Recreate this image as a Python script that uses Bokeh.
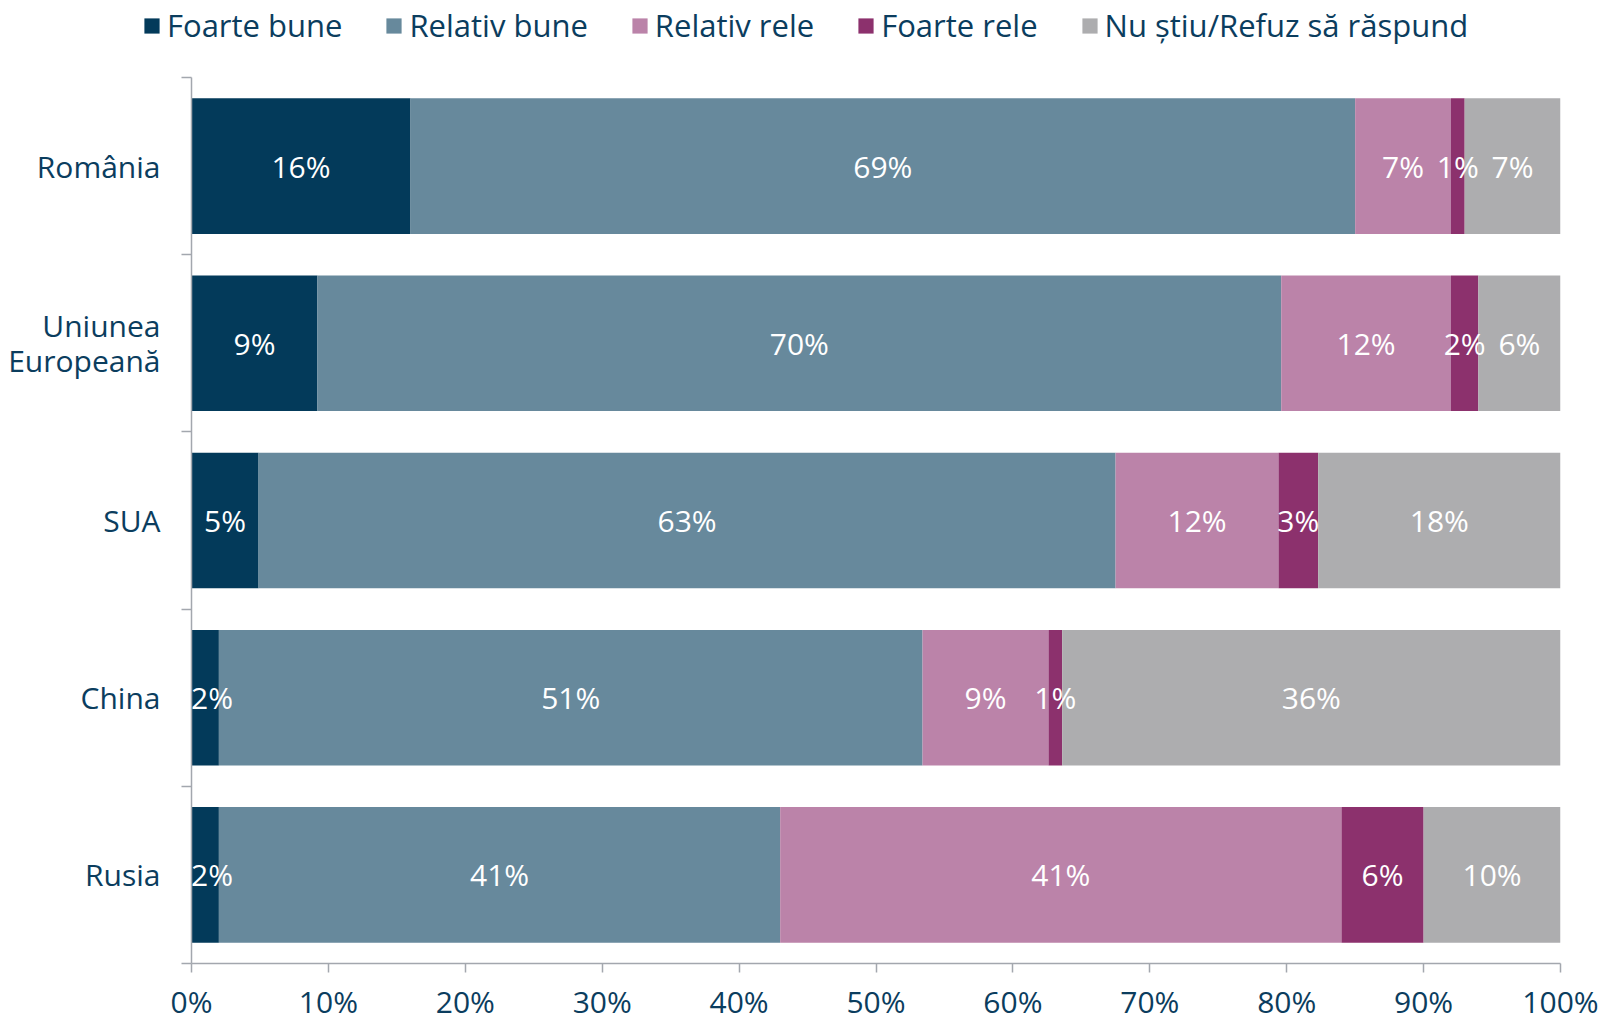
import numpy as np
from bokeh.plotting import figure
from bokeh.layouts import column
from bokeh.models import Range1d, FixedTicker, Legend, LegendItem
from bokeh.core.properties import value
from bokeh.embed import file_html
from bokeh.resources import INLINE

# ---- data ----
categories = ["România", "Uniunea\nEuropeană", "SUA", "China", "Rusia"]
series_names = ["Foarte bune", "Relativ bune", "Relativ rele", "Foarte rele",
                "Nu știu/Refuz să răspund"]
foarte_bune = [16.0, 9.2, 4.9, 2.0, 2.0]
relativ_bune = [69.0, 70.4, 62.6, 51.4, 41.0]
relativ_rele = [7.0, 12.4, 11.9, 9.2, 41.0]
foarte_rele = [1.0, 2.0, 2.9, 1.0, 6.0]
nu_stiu = [7.0, 6.0, 17.7, 36.4, 10.0]
x_ticks = [0, 10, 20, 30, 40, 50, 60, 70, 80, 90, 100]
x_tick_labels = ["0%", "10%", "20%", "30%", "40%", "50%", "60%", "70%", "80%", "90%", "100%"]

# ---- style ----
colors = ["#033A5A", "#67899C", "#BB83A9", "#8C316D", "#ADADAF"]
TEXT = "#0B3D5E"
AXIS = "#A3A7AE"
FONT = "Open Sans"
FS = "30px"

series = [foarte_bune, relativ_bune, relativ_rele, foarte_rele, nu_stiu]
n = len(categories)
ys = np.arange(n)[::-1].astype(float)

# ---- legend strip (own small figure above the chart) ----
LEG_H = 52
pl = figure(width=1600, height=LEG_H, x_range=Range1d(0, 1), y_range=Range1d(0, 1),
            output_backend="svg", toolbar_location=None,
            x_axis_location=None, y_axis_location=None,
            min_border_left=0, min_border_right=0, min_border_top=0,
            min_border_bottom=0)
pl.frame_align = False
pl.outline_line_color = None
pl.xgrid.visible = False
pl.ygrid.visible = False

# ---- main chart ----
p = figure(frame_width=1369, frame_height=886,
           x_range=Range1d(0, 100), y_range=Range1d(-0.5, n - 0.5),
           output_backend="svg", toolbar_location=None,
           min_border_left=191, min_border_right=40, min_border_top=77 - LEG_H,
           min_border_bottom=40)
p.frame_align = False
p.outline_line_color = None
p.xgrid.visible = False
p.ygrid.visible = False

left = np.zeros(n)
items = []
label_x, label_y, label_t = [], [], []
for name, vals, col in zip(series_names, series, colors):
    vals = np.array(vals)
    right = left + vals
    p.hbar(y=ys, left=left, right=right, height=0.765, fill_color=col,
           line_color=None)
    # legend proxy in the legend strip (same data, not shown)
    lr = pl.hbar(y=ys, left=left, right=right, height=0.765, fill_color=col,
                 line_color=None, visible=False)
    items.append(LegendItem(label=name, renderers=[lr]))
    label_x += list(np.maximum((left + right) / 2, 1.5))
    label_y += list(ys)
    label_t += [f"{v:.0f}%" for v in vals]
    left = right

p.text(x=label_x, y=label_y, text=label_t, text_align="center",
       text_baseline="middle", text_color="white",
       text_font=value(FONT), text_font_size=FS)

# x axis
xa = p.xaxis[0]
xa.ticker = FixedTicker(ticks=x_ticks)
xa.major_label_overrides = {t: l for t, l in zip(x_ticks, x_tick_labels)}
xa.axis_line_color = AXIS
xa.axis_line_width = 1.5
xa.major_tick_line_color = AXIS
xa.major_tick_line_width = 1.5
xa.major_tick_out = 9
xa.major_tick_in = 0
xa.minor_tick_line_color = None
xa.major_label_text_font = FONT
xa.major_label_text_font_size = FS
xa.major_label_text_color = TEXT
xa.major_label_standoff = 8

# y axis
ya = p.yaxis[0]
ya.ticker = FixedTicker(ticks=list(ys), minor_ticks=list(np.arange(-0.5, n, 1.0)))
ya.major_label_overrides = {float(y): c for y, c in zip(ys, categories)}
ya.axis_line_color = AXIS
ya.axis_line_width = 1.5
ya.major_tick_out = 0
ya.major_tick_in = 0
ya.major_tick_line_color = None
ya.minor_tick_line_color = AXIS
ya.minor_tick_line_width = 1.5
ya.minor_tick_out = 10
ya.minor_tick_in = 0
ya.major_label_text_font = FONT
ya.major_label_text_font_size = FS
ya.major_label_text_color = TEXT
ya.major_label_text_line_height = 0.85
ya.major_label_standoff = 21

legend = Legend(items=items, orientation="horizontal", location=(142, 6))
legend.label_text_font = FONT
legend.label_text_font_size = "31px"
legend.label_text_color = TEXT
legend.glyph_width = 19
legend.glyph_height = 19
legend.label_standoff = 6
legend.spacing = 42
legend.padding = 0
legend.margin = 0
legend.border_line_color = None
legend.background_fill_alpha = 0
legend.click_policy = "none"
pl.add_layout(legend, "center")

layout = column(pl, p, spacing=0)
open("out.html", "w").write(file_html(layout, INLINE))
